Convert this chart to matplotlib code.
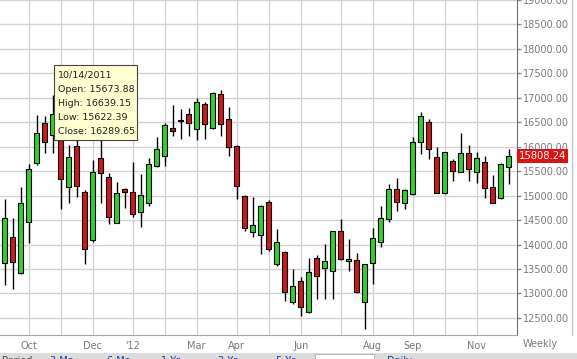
import matplotlib
matplotlib.use('Agg')
import matplotlib.pyplot as plt
import matplotlib.dates as mdates
from matplotlib.patches import Rectangle
from matplotlib.lines import Line2D
import matplotlib.transforms as mtransforms
import pandas as pd
import numpy as np

# weekly candles
dates = pd.date_range('2011-09-16', periods=64, freq='W-FRI')
opens = [13616, 14148, 13411, 14454, 15673.88, 16480, 16241, 16600, 15170, 16016,
         15075, 14093, 15764, 15389, 14448, 15130, 15082, 14673, 14857, 15607,
         15818, 16385, 16540, 16671, 16357, 16876, 16391, 17074, 16575, 16016,
         14993, 14250, 14190, 14865, 13597, 13855, 12820, 13256, 12616, 13720,
         13515, 13466, 14278, 13660, 13679, 12820, 13630, 14059, 14517, 15131,
         14845, 15041, 16092, 16513, 15798, 15049, 15716, 15485, 15867, 15485,
         15689, 15172, 14959, 15581]
highs = [14925, 14536, 15184, 15648, 16639.15, 16630, 17060, 16850, 16037, 16139,
         15110, 15730, 16350, 15457, 15286, 15164, 15696, 15436, 15764, 16194,
         16480, 16855, 16766, 16800, 17005, 16916, 17114, 17162, 16814, 16030,
         15014, 14966, 14810, 14912, 14319, 13869, 13501, 13343, 13719, 13787,
         14006, 14285, 14523, 14108, 13822, 13600, 14333, 14789, 15233, 15356,
         15140, 16194, 16705, 16562, 15990, 15900, 15744, 16276, 16037, 15887,
         15812, 15417, 15663, 15949]
lows = [13172, 13084, 13390, 14038, 15622.39, 15880, 15880, 14720, 14857, 14980,
        13595, 14050, 14843, 14420, 14434, 14741, 14570, 14366, 14795, 15580,
        15607, 16221, 16166, 16221, 16139, 16166, 16371, 16228, 15805, 14939,
        14284, 14148, 13808, 13875, 13568, 12847, 12786, 12540, 12600, 12881,
        12881, 12887, 13690, 13466, 13004, 12280, 13194, 13957, 14468, 14693,
        14722, 15014, 15847, 15744, 15055, 15040, 15307, 15480, 15307, 15254,
        14959, 14840, 14939, 15239]
closes = [14536, 13636, 14843, 15539, 16289.65, 16098, 16664, 15334, 15784, 15205,
          13902, 15477, 15457, 14557, 15061, 15068, 14625, 15007, 15641, 15948,
          16439, 16330, 16530, 16480, 16910, 16460, 17094, 16460, 15995, 15198,
          14332, 14400, 14790, 13904, 14047, 13031, 13153, 12718, 13434, 13364,
          13658, 14272, 13699, 13700, 13031, 13597, 14129, 14538, 15131, 14865,
          15117, 16104, 16630, 15961, 15061, 15887, 15505, 15867, 15552, 15765,
          15151, 14845, 15642, 15808.24]

month_labels = ['Oct', '', 'Dec', "'12", '', 'Mar', 'Apr', '', 'Jun', '', 'Aug', 'Sep', '', 'Nov']
y_ticks = list(range(12500, 19001, 500))

tip_index = 4  # 10/14/2011
bottom_links = ['3 Mo', '6 Mo', '1 Yr', '2 Yr', '5 Yr', 'Daily']

W, H = 577, 359
fig = plt.figure(figsize=(W / 100, H / 100), dpi=100)
fig.patch.set_facecolor('white')
ax = fig.add_axes([0, 24 / H, 517 / W, 335 / H])

xs = mdates.date2num(dates)
o = np.array(opens)
c = np.array(closes)
up = c >= o
colors = np.where(up, '#2fd12f', '#d01818')

ax.vlines(xs, lows, highs, color='black', linewidth=1, zorder=2)
ax.bar(xs, np.maximum(np.abs(c - o), 8), bottom=np.minimum(o, c), width=4.6,
       color=colors, edgecolor='black', linewidth=0.8, zorder=3)

# month grid at first weekly bar of each month
month_starts = xs[1:][dates[1:].month != dates[:-1].month]
ax.set_xticks(month_starts)
ax.set_xticklabels(month_labels)
ax.set_xlim(xs[0] - 0.59 * 7, xs[-1] + 1.04 * 7)
ax.set_ylim(12150, 19000)
ax.set_yticks(y_ticks)
ax.set_yticklabels([f'{v:.2f}' for v in y_ticks])
ax.yaxis.tick_right()
ax.grid(True, color='#d2d2d2', linewidth=1, zorder=0)
ax.set_axisbelow(True)

ax.tick_params(axis='y', colors='#8a8a8a', labelsize=7, length=3, width=1, pad=1,
               labelcolor='#7a7a7a')
ax.tick_params(axis='x', length=0, labelsize=7, pad=4, labelcolor='#7a7a7a')
for s in ['top', 'left']:
    ax.spines[s].set_visible(False)
ax.spines['right'].set_color('#707070')
ax.spines['bottom'].set_color('#a8a8a8')

# tooltip
ax.add_patch(Rectangle((0.1044, 0.582), 0.161, 0.224, transform=ax.transAxes,
                       facecolor='#ffffd2', edgecolor='#444444', linewidth=0.8, zorder=6))
tip_lines = [dates[tip_index].strftime('%m/%d/%Y'),
             f'Open: {opens[tip_index]:.2f}',
             f'High: {highs[tip_index]:.2f}',
             f'Low: {lows[tip_index]:.2f}',
             f'Close: {closes[tip_index]:.2f}']
for i, line in enumerate(tip_lines):
    ax.text(0.1116, 0.776 - i * 0.0418, line, transform=ax.transAxes, fontsize=6.8,
            color='#222222', va='center', ha='left', zorder=7)

# last price flag
trans = mtransforms.blended_transform_factory(ax.transAxes, ax.transData)
ax.text(1.003, closes[-1], f'{closes[-1]:.2f}', transform=trans, fontsize=7.2,
        color='white', va='center', ha='left', clip_on=False,
        bbox=dict(boxstyle='square,pad=0.18', facecolor='#dd1313', edgecolor='none'))

# right frame line and "Weekly" label
fig.add_artist(Line2D([572 / W, 572 / W], [24 / H, 1], color='#c8c8c8', linewidth=1))
fig.text(540 / W, (H - 344) / H, 'Weekly', fontsize=7, color='#7a7a7a',
         ha='center', va='center')

# bottom control strip (cut off in the reference)
fig.add_artist(Rectangle((0, 0), 1, 6 / H, transform=fig.transFigure,
                         facecolor='#dcdcdc', edgecolor='none'))
fig.text(2 / W, -2 / H, 'Period:', fontsize=7, color='#444444', va='center')
link_x = [50, 107, 161, 218, 276, 387]
for lx, txt in zip(link_x, bottom_links):
    fig.text(lx / W, -2 / H, txt, fontsize=7, color='#1a33aa', va='center')
fig.add_artist(Rectangle((315 / W, 0), 59 / W, 5 / H, transform=fig.transFigure,
                         facecolor='white', edgecolor='#aaaaaa', linewidth=0.6))

fig.savefig('out.png', dpi=100)
